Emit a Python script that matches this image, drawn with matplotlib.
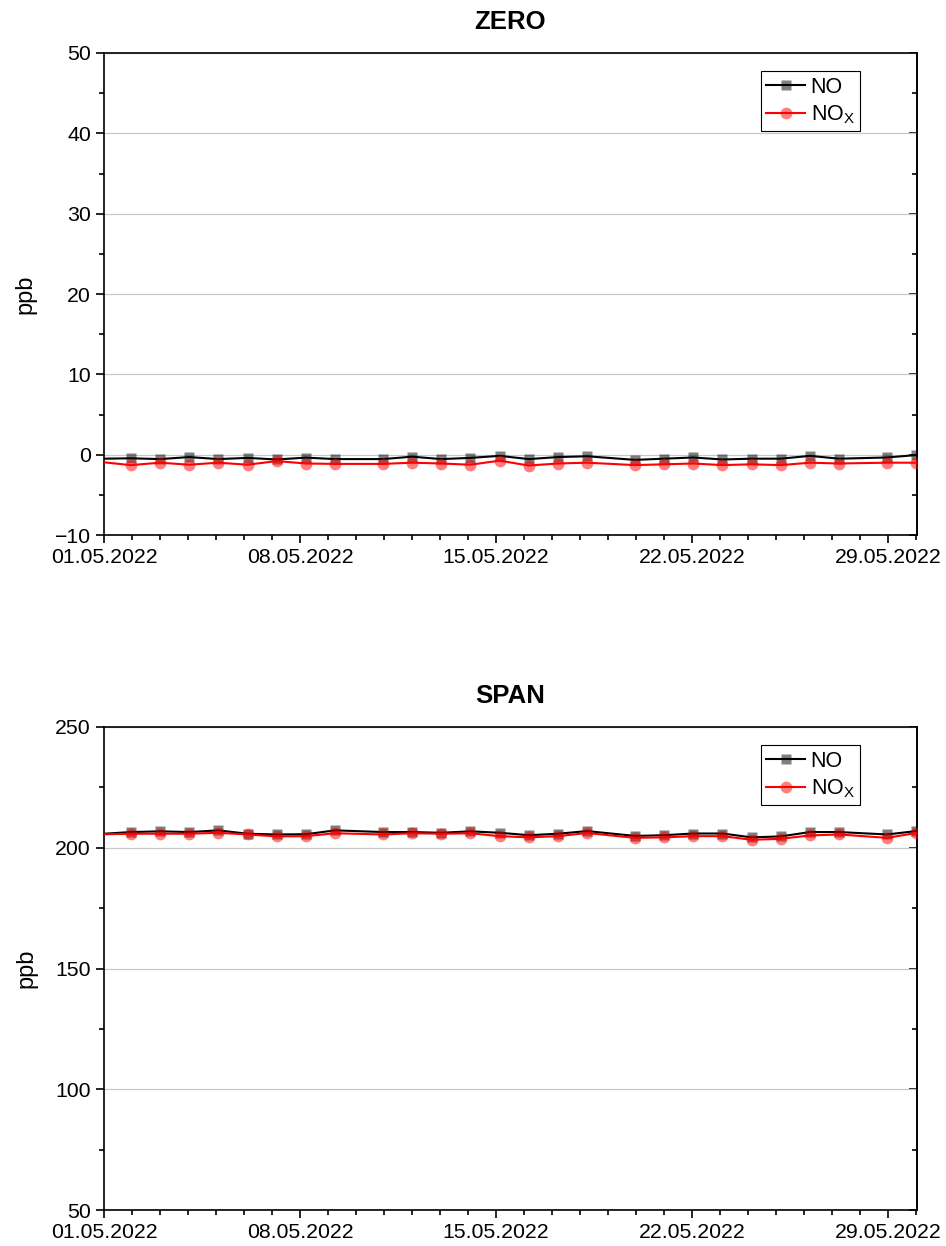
import matplotlib
matplotlib.use("Agg")
import matplotlib.pyplot as plt
import matplotlib.dates as mdates
import pandas as pd

plt.rcParams['font.family'] = ['Liberation Sans', 'DejaVu Sans']
plt.rcParams['mathtext.fontset'] = 'custom'
plt.rcParams['mathtext.rm'] = 'Liberation Sans'
plt.rcParams['mathtext.it'] = 'Liberation Sans'

# ---------------- data ----------------
times = ['2022-04-30 06:00', '2022-05-01 23:00', '2022-05-03 00:00', '2022-05-04 01:00',
         '2022-05-05 02:00', '2022-05-06 03:00', '2022-05-07 04:00', '2022-05-08 05:00',
         '2022-05-09 06:00', '2022-05-10 23:00', '2022-05-12 00:00', '2022-05-13 01:00',
         '2022-05-14 02:00', '2022-05-15 03:00', '2022-05-16 04:00', '2022-05-17 05:00',
         '2022-05-18 06:00', '2022-05-19 23:00', '2022-05-21 00:00', '2022-05-22 01:00',
         '2022-05-23 02:00', '2022-05-24 03:00', '2022-05-25 04:00', '2022-05-26 05:00',
         '2022-05-27 06:00', '2022-05-28 23:00', '2022-05-30 00:00']

zero_no = [-0.54, -0.45, -0.55, -0.3, -0.55, -0.4, -0.6, -0.37, -0.55, -0.55, -0.25,
           -0.55, -0.4, -0.15, -0.55, -0.3, -0.2, -0.65, -0.5, -0.35, -0.6, -0.5,
           -0.5, -0.15, -0.5, -0.35, -0.05]
zero_nox = [-0.68, -1.3, -1.0, -1.25, -1.0, -1.25, -0.8, -1.1, -1.15, -1.15, -1.0,
            -1.1, -1.25, -0.75, -1.35, -1.1, -1.0, -1.3, -1.2, -1.1, -1.3, -1.2,
            -1.3, -1.0, -1.1, -1.0, -1.0]

span_no = [205.25, 206.5, 206.8, 206.5, 207.2, 205.8, 205.5, 205.6, 207.2, 206.5, 206.5,
           206.2, 206.8, 206.2, 205.2, 205.8, 206.9, 204.9, 205.2, 205.9, 205.9, 204.3,
           204.7, 206.5, 206.5, 205.5, 206.9]
span_nox = [205.4, 205.8, 205.8, 205.8, 206.2, 205.5, 204.7, 204.8, 206.0, 205.5, 206.0,
            205.8, 206.0, 204.8, 204.3, 204.8, 206.1, 204.1, 204.3, 204.8, 204.8, 203.3,
            203.7, 205.1, 205.5, 204.1, 206.1]

titles = ['ZERO', 'SPAN']
ylims = [(-10, 50), (50, 250)]
ymajor = [10, 50]
yminor = [5, 25]
x_start = '2022-05-01 00:00'
x_end = '2022-05-30 00:45'
y_label = 'ppb'
legend_labels = ['NO', r'NO$_\mathrm{X}$']

# ---------------- figure ----------------
W, H = 946, 1246
fig = plt.figure(figsize=(W / 100, H / 100), dpi=100)

left = 104 / W
width = (917 - 104) / W
axes_px = [(53, 535), (727, 1210)]

t = pd.to_datetime(times)
datasets = [(zero_no, zero_nox), (span_no, span_nox)]

for i, (top, bot) in enumerate(axes_px):
    ax = fig.add_axes([left, 1 - bot / H, width, (bot - top) / H])
    no, nox = datasets[i]
    ax.plot(t, no, color='black', lw=1.5, marker='s', ms=7,
            mfc=(0, 0, 0, 0.5), mec='none', label=legend_labels[0], zorder=3)
    ax.plot(t, nox, color='red', lw=1.5, marker='o', ms=8.5,
            mfc=(1, 0, 0, 0.5), mec='none', label=legend_labels[1], zorder=4)

    ax.set_xlim(pd.Timestamp(x_start), pd.Timestamp(x_end))
    ax.set_ylim(*ylims[i])
    ax.yaxis.set_major_locator(plt.MultipleLocator(ymajor[i]))
    ax.yaxis.set_minor_locator(plt.MultipleLocator(yminor[i]))
    ax.xaxis.set_major_locator(mdates.DayLocator(bymonthday=[1, 8, 15, 22, 29]))
    ax.xaxis.set_minor_locator(mdates.DayLocator())
    ax.xaxis.set_major_formatter(mdates.DateFormatter('%d.%m.%Y'))

    ax.grid(axis='y', which='major', color='#c8c8c8', lw=0.9, zorder=0)
    ax.set_axisbelow(True)

    for s in ax.spines.values():
        s.set_linewidth(1.2)
    ax.tick_params(axis='both', which='major', direction='out', length=6, width=1.2,
                   labelsize=15.3, right=False, top=False)
    ax.tick_params(axis='both', which='minor', direction='out', length=3.5, width=1.2,
                   right=False, top=False)

    sec = ax.secondary_yaxis('right')
    sec.yaxis.set_major_locator(plt.MultipleLocator(ymajor[i]))
    sec.yaxis.set_minor_locator(plt.MultipleLocator(yminor[i]))
    sec.tick_params(which='major', direction='in', length=6, width=1.2, labelright=False)
    sec.tick_params(which='minor', direction='in', length=3.5, width=1.2)
    sec.spines['right'].set_linewidth(1.2)

    ax.set_ylabel(y_label, fontsize=17, labelpad=13)
    ax.set_title(titles[i], fontsize=18.5, fontweight='bold', pad=17)

    leg = ax.legend(loc='upper right', bbox_to_anchor=(0.93, 0.962), fontsize=15.5,
                    fancybox=False, framealpha=1, edgecolor='black',
                    handlelength=1.8, handletextpad=0.25, borderpad=0.25,
                    labelspacing=0.25, borderaxespad=0)
    leg.get_frame().set_linewidth(0.8)

fig.savefig('out.png', dpi=100)
